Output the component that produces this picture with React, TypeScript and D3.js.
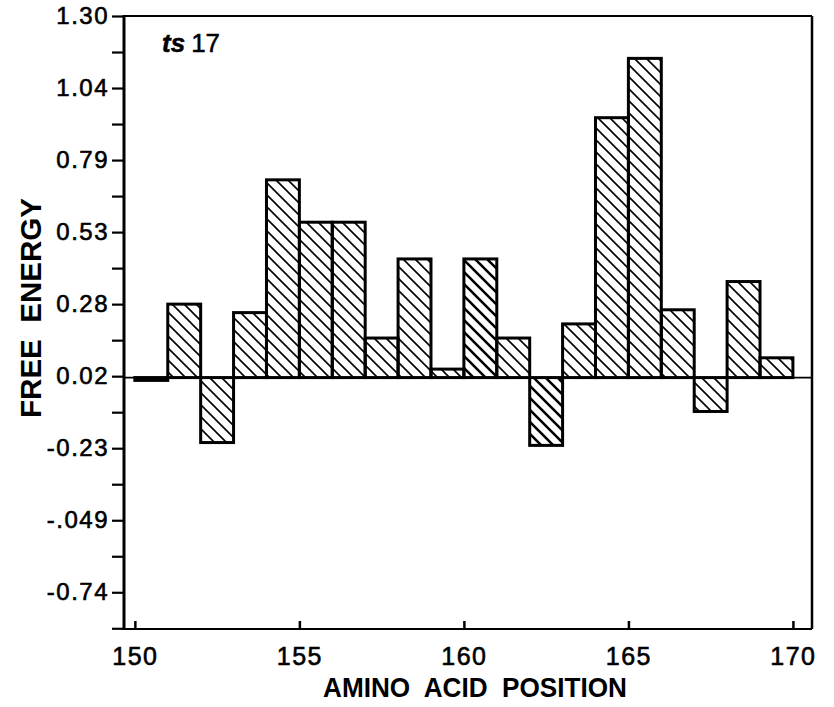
import React from 'react';
import * as d3 from 'd3';

// residue positions 150..169, one bar per residue
const positions = [150, 151, 152, 153, 154, 155, 156, 157, 158, 159, 160, 161, 162, 163, 164, 165, 166, 167, 168, 169];
const freeEnergy = [0.01, 0.28, -0.21, 0.25, 0.72, 0.57, 0.57, 0.16, 0.44, 0.05, 0.44, 0.16, -0.22, 0.21, 0.94, 1.15, 0.26, -0.10, 0.36, 0.09];
// residues drawn with the heavier hatching
const darkHatch = [160, 162];

const yTickValues = [1.30, 1.045, 0.79, 0.535, 0.28, 0.025, -0.23, -0.485, -0.74];
const yTickLabels = ['1.30', '1.04', '0.79', '0.53', '0.28', '0.02', '-0.23', '-.049', '-0.74'];
const xTickValues = [150, 155, 160, 165, 170];

const baseline = 0.02;
const yMin = -0.87, yMax = 1.30;
const xMin = 149.67, xMax = 170.58;

class App extends React.Component {
    node: SVGSVGElement | null = null;

    componentDidMount() {
        document.body.style.margin = '0';
        this.draw();
    }

    draw() {
        const width = 834, height = 707;
        const left = 124, right = 812, top = 16, bottom = 629;
        const font = '"Liberation Sans", Arial, Helvetica, sans-serif';

        const svg = d3.select(this.node);
        svg.selectAll('*').remove();
        svg.attr('width', width).attr('height', height);

        svg.append('rect').attr('width', width).attr('height', height).attr('fill', '#fff');

        const defs = svg.append('defs');
        const addHatch = (id: string, sw: number) => {
            defs.append('pattern')
                .attr('id', id)
                .attr('patternUnits', 'userSpaceOnUse')
                .attr('width', 12)
                .attr('height', 12)
                .append('path')
                .attr('d', 'M-6,6 L6,18 M0,0 L12,12 M6,-6 L18,6')
                .attr('stroke', '#000')
                .attr('stroke-width', sw);
        };
        addHatch('hatch', 1.6);
        addHatch('hatchDark', 2.6);

        const x = d3.scaleLinear().domain([xMin, xMax]).range([left, right]);
        const y = d3.scaleLinear().domain([yMin, yMax]).range([bottom, top]);

        // zero line
        svg.append('line')
            .attr('x1', left).attr('x2', right)
            .attr('y1', y(baseline)).attr('y2', y(baseline))
            .attr('stroke', '#000').attr('stroke-width', 1.8);

        // bars
        const data = positions.map((p, i) => ({ p, v: freeEnergy[i] }));
        svg.append('g')
            .selectAll('rect')
            .data(data)
            .enter()
            .append('rect')
            .attr('x', d => x(d.p))
            .attr('width', d => x(d.p + 1) - x(d.p))
            .attr('y', d => Math.min(y(d.v), y(baseline)))
            .attr('height', d => Math.abs(y(d.v) - y(baseline)))
            .attr('fill', d => darkHatch.includes(d.p) ? 'url(#hatchDark)' : 'url(#hatch)')
            .attr('stroke', '#000')
            .attr('stroke-width', 3);

        // y axis: majors carry labels, minors sit halfway
        const minor = yTickValues.map((v, i) => i < yTickValues.length - 1 ? (v + yTickValues[i + 1]) / 2 : v - (yTickValues[i - 1] - v) / 2);
        minor.unshift(yTickValues[0] + (yTickValues[0] - yTickValues[1]) / 2);
        const allY = yTickValues.concat(minor.filter(v => v <= yMax + 1e-6 && v >= yMin - 0.01));
        const yAxis = d3.axisLeft(y)
            .tickValues(allY)
            .tickSize(12)
            .tickPadding(3)
            .tickFormat((v: any) => {
                const i = yTickValues.indexOf(v);
                return i >= 0 ? yTickLabels[i] : '';
            });
        const gy = svg.append('g')
            .attr('transform', 'translate(' + left + ',0)')
            .call(yAxis);
        gy.select('.domain').remove();
        gy.selectAll('line').attr('stroke-width', 2.2);
        gy.selectAll('text')
            .attr('font-family', font)
            .attr('font-size', 24)
            .attr('letter-spacing', 1.5)
            .attr('fill', '#000')
            .attr('stroke', '#000')
            .attr('stroke-width', 0.6);

        // x axis, ticks pointing up into the plot
        const xAxis = d3.axisBottom(x)
            .tickValues(xTickValues)
            .tickSizeInner(-8)
            .tickSizeOuter(0)
            .tickPadding(18)
            .tickFormat(d3.format('d'));
        const gx = svg.append('g')
            .attr('transform', 'translate(0,' + bottom + ')')
            .call(xAxis);
        gx.select('.domain').remove();
        gx.selectAll('line').attr('stroke-width', 2.5);
        gx.selectAll('text')
            .attr('font-family', font)
            .attr('font-size', 25)
            .attr('letter-spacing', 1.5)
            .attr('fill', '#000')
            .attr('stroke', '#000')
            .attr('stroke-width', 0.6);

        // frame
        const frame = svg.append('g').attr('stroke', '#000').attr('fill', 'none');
        frame.append('line').attr('x1', left).attr('x2', left).attr('y1', top - 1).attr('y2', bottom + 1).attr('stroke-width', 3);
        frame.append('line').attr('x1', left).attr('x2', right).attr('y1', top).attr('y2', top).attr('stroke-width', 2);
        frame.append('line').attr('x1', right).attr('x2', right).attr('y1', top).attr('y2', bottom).attr('stroke-width', 2.5);
        frame.append('line').attr('x1', left).attr('x2', right).attr('y1', bottom).attr('y2', bottom).attr('stroke-width', 2.2);

        // axis titles
        svg.append('text')
            .attr('x', 475).attr('y', 697)
            .attr('text-anchor', 'middle')
            .attr('font-family', font)
            .attr('font-weight', 'bold')
            .attr('font-size', 27)
            .attr('textLength', 304)
            .attr('lengthAdjust', 'spacingAndGlyphs')
            .style('white-space', 'pre')
            .text('AMINO  ACID  POSITION');

        svg.append('text')
            .attr('transform', 'translate(41,308) rotate(-90)')
            .attr('text-anchor', 'middle')
            .attr('font-family', font)
            .attr('font-weight', 'bold')
            .attr('font-size', 30)
            .attr('textLength', 220)
            .attr('lengthAdjust', 'spacingAndGlyphs')
            .style('white-space', 'pre')
            .text('FREE  ENERGY');

        // panel label
        const label = svg.append('text')
            .attr('x', 162).attr('y', 52)
            .attr('font-family', font)
            .attr('font-size', 26)
            .attr('stroke', '#000')
            .attr('stroke-width', 0.5);
        label.append('tspan').attr('font-weight', 'bold').attr('font-style', 'italic').text('ts');
        label.append('tspan').attr('dx', 6).text('17');
    }

    render() {
        return (<svg ref={node => { this.node = node; }}></svg>);
    }
}

export default App;
